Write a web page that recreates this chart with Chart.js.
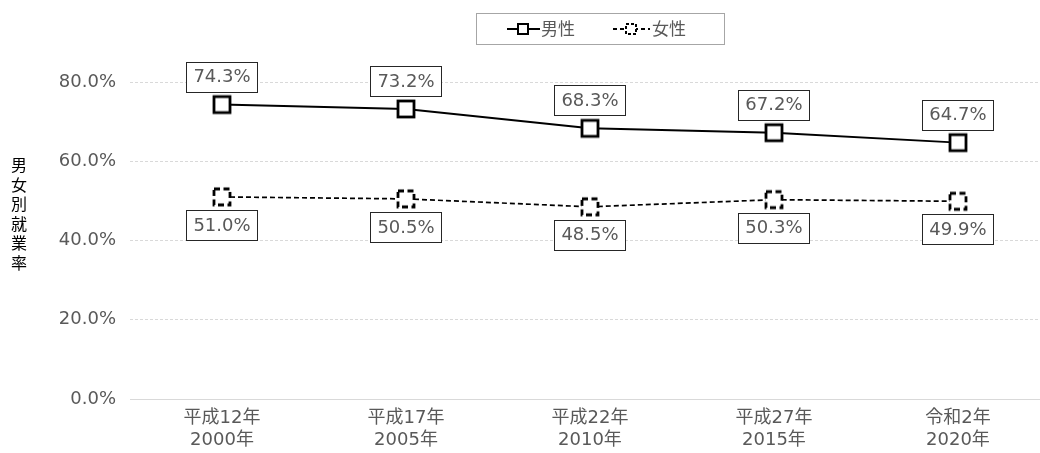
<!DOCTYPE html>
<html lang="ja">
<head>
    <meta charset="UTF-8">
    <title>男女別就業率</title>
    <script src="https://cdn.jsdelivr.net/npm/chart.js"></script>
    <style>
        html, body { margin: 0; padding: 0; background: #fff; overflow: hidden; }
    </style>
</head>
<body>
    <canvas id="rateChart" width="1040" height="453"></canvas>

    <script>
        // 就業率（%）
        const years = [['平成12年', '2000年'], ['平成17年', '2005年'], ['平成22年', '2010年'], ['平成27年', '2015年'], ['令和2年', '2020年']];
        const maleRate = [74.3, 73.2, 68.3, 67.2, 64.7];
        const femaleRate = [51.0, 50.5, 48.5, 50.3, 49.9];
        const seriesNames = ['男性', '女性'];
        const axisTitle = '男女別就業率';

        const FONT = '"DejaVu Sans", "Noto Sans CJK JP", sans-serif';
        const JP = '"Noto Sans CJK JP", sans-serif';
        const GRAY = '#595959';

        // category index as x, so the plot can be cut off at the right edge
        const toPoints = arr => arr.map((v, i) => ({ x: i, y: v }));

        // square marker, solid or dashed outline
        function makeMarker(dashed, size) {
            const c = document.createElement('canvas');
            c.width = size + 6;
            c.height = size + 6;
            const g = c.getContext('2d');
            g.fillStyle = '#fff';
            g.fillRect(3, 3, size, size);
            g.strokeStyle = '#000';
            g.lineWidth = 2.8;
            if (dashed) g.setLineDash([6, 3.5]);
            g.strokeRect(3, 3, size, size);
            return c;
        }
        const maleMarker = makeMarker(false, 16);
        const femaleMarker = makeMarker(true, 16);

        // boxed value labels above (男性) / below (女性) the points
        const valueBoxes = {
            id: 'valueBoxes',
            afterDatasetsDraw(chart) {
                const ctx = chart.ctx;
                ctx.save();
                ctx.font = '18px ' + FONT;
                ctx.textAlign = 'center';
                ctx.textBaseline = 'middle';
                chart.data.datasets.forEach((ds, i) => {
                    const meta = chart.getDatasetMeta(i);
                    meta.data.forEach((pt, j) => {
                        const txt = ds.data[j].y.toFixed(1) + '%';
                        const w = Math.round(ctx.measureText(txt).width + 14);
                        const h = 30;
                        const cy = i === 0 ? pt.y - 28 : pt.y + 28;
                        const bx = Math.round(pt.x - w / 2) + 0.5;
                        const by = Math.round(cy - h / 2) + 0.5;
                        ctx.fillStyle = '#fff';
                        ctx.fillRect(bx, by, w, h);
                        ctx.strokeStyle = '#262626';
                        ctx.lineWidth = 1;
                        ctx.strokeRect(bx, by, w, h);
                        ctx.fillStyle = GRAY;
                        ctx.fillText(txt, pt.x, cy + 1);
                    });
                });
                ctx.restore();
            }
        };

        // legend box and vertical axis title
        const extras = {
            id: 'extras',
            afterDraw(chart) {
                const ctx = chart.ctx;
                ctx.save();
                // legend frame
                ctx.strokeStyle = '#a6a6a6';
                ctx.lineWidth = 1;
                ctx.strokeRect(476.5, 13.5, 248, 31);
                ctx.font = '17px ' + JP;
                ctx.textBaseline = 'middle';
                ctx.fillStyle = GRAY;
                const ly = 29;
                // 男性
                ctx.strokeStyle = '#000';
                ctx.lineWidth = 2;
                ctx.beginPath();
                ctx.moveTo(507, ly);
                ctx.lineTo(540, ly);
                ctx.stroke();
                ctx.fillStyle = '#fff';
                ctx.fillRect(518, ly - 5, 10, 10);
                ctx.strokeRect(518, ly - 5, 10, 10);
                ctx.fillStyle = GRAY;
                ctx.textAlign = 'left';
                ctx.fillText(seriesNames[0], 541, ly);
                // 女性
                ctx.setLineDash([4, 3]);
                ctx.beginPath();
                ctx.moveTo(613, ly);
                ctx.lineTo(650, ly);
                ctx.stroke();
                ctx.fillStyle = '#fff';
                ctx.fillRect(626, ly - 5, 10, 10);
                ctx.setLineDash([3, 2]);
                ctx.strokeRect(626, ly - 5, 10, 10);
                ctx.setLineDash([]);
                ctx.fillStyle = GRAY;
                ctx.fillText(seriesNames[1], 652, ly);
                // y axis title, upright characters stacked vertically
                ctx.fillStyle = '#000';
                ctx.font = '16px ' + JP;
                ctx.textAlign = 'center';
                const chars = Array.from(axisTitle);
                const step = 19.5;
                const y0 = 214 - (chars.length - 1) * step / 2;
                chars.forEach((ch, k) => ctx.fillText(ch, 19, y0 + k * step));
                ctx.restore();
            }
        };

        new Chart(document.getElementById('rateChart').getContext('2d'), {
            type: 'line',
            data: {
                datasets: [{
                    label: seriesNames[0],
                    data: toPoints(maleRate),
                    borderColor: '#000',
                    borderWidth: 2,
                    pointStyle: maleMarker,
                    tension: 0
                }, {
                    label: seriesNames[1],
                    data: toPoints(femaleRate),
                    borderColor: '#000',
                    borderWidth: 1.7,
                    borderDash: [5, 3],
                    pointStyle: femaleMarker,
                    tension: 0
                }]
            },
            options: {
                responsive: false,
                animation: false,
                layout: { autoPadding: false, padding: { top: 82, left: 0, right: 0, bottom: 0 } },
                plugins: {
                    legend: { display: false },
                    tooltip: { enabled: false }
                },
                scales: {
                    x: {
                        type: 'linear',
                        // half a category before the first year; last category is clipped by the edge
                        min: -0.5,
                        max: 4.446,
                        afterBuildTicks: s => { s.ticks = years.map((_, i) => ({ value: i })); },
                        grid: { display: false, drawTicks: false },
                        border: { display: true, color: '#d9d9d9', width: 1 },
                        ticks: {
                            color: GRAY,
                            font: { family: FONT, size: 18, lineHeight: 1.22 },
                            padding: 8,
                            maxRotation: 0,
                            autoSkip: false,
                            callback: v => years[v]
                        },
                        afterFit: s => { s.height = 54; }
                    },
                    y: {
                        min: 0,
                        max: 80,
                        ticks: {
                            stepSize: 20,
                            color: GRAY,
                            font: { family: FONT, size: 18 },
                            padding: 14,
                            callback: v => v.toFixed(1) + '%'
                        },
                        grid: { color: '#d9d9d9', drawTicks: false, lineWidth: 1 },
                        border: { display: false, dash: [3, 2] },
                        afterFit: s => { s.width = 130; }
                    }
                }
            },
            plugins: [valueBoxes, extras]
        });
    </script>
</body>
</html>
